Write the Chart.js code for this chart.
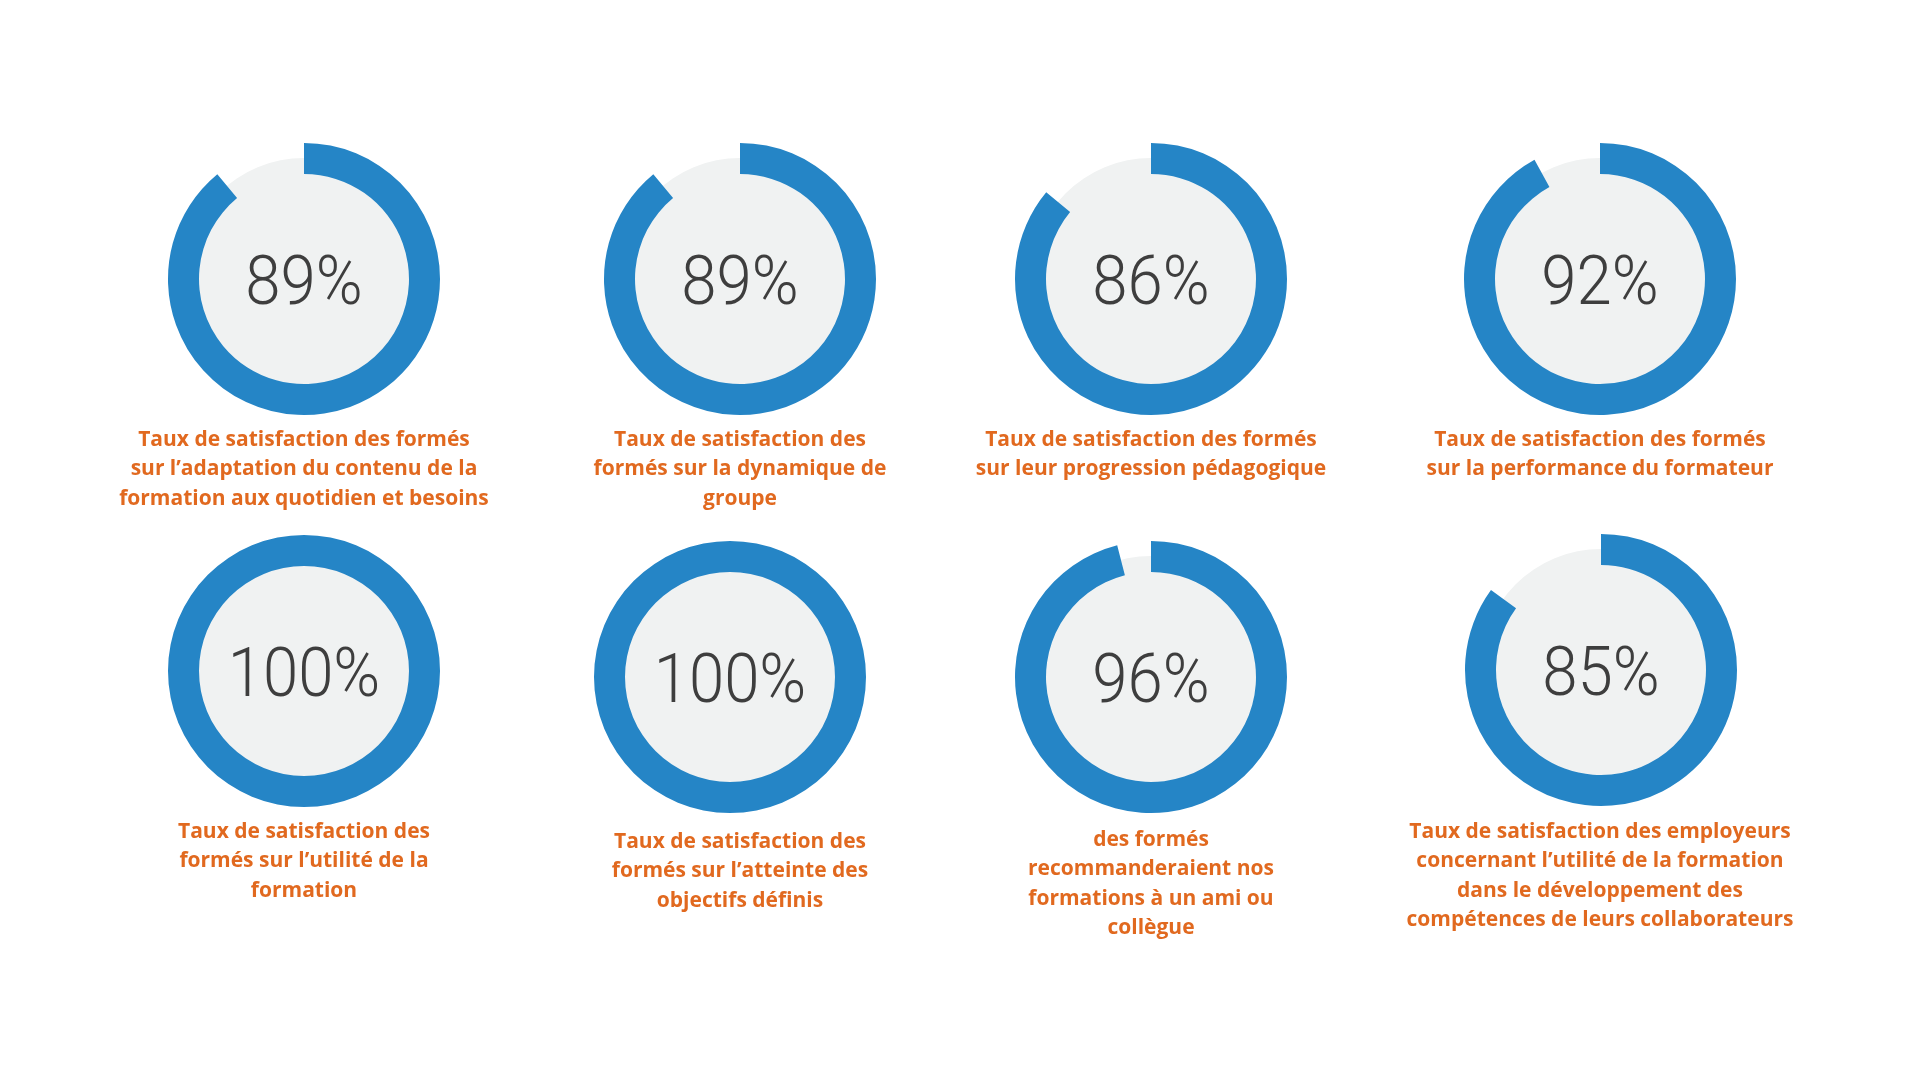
<!DOCTYPE html>
<html lang="fr">
<head>
<meta charset="utf-8">
<script src="https://cdn.jsdelivr.net/npm/chart.js@4.4.1/dist/chart.umd.min.js"></script>
<style>
  html, body { margin: 0; padding: 0; background: #ffffff; }
  #stage { position: relative; width: 1920px; height: 1080px; overflow: hidden; background: #fff; }
  .box { position: absolute; width: 300px; height: 300px; }
  .box canvas { position: absolute; left: 0; top: 0; }
  .pct { position: absolute; transform: translate(-50%, -50%) scaleX(0.92); font-family: Roboto, "DejaVu Sans", sans-serif; font-weight: 300; font-size: 69px; color: #3e3e3e; white-space: nowrap; line-height: 1; }
  .cap { position: absolute; transform: translateX(-50%); font-family: "Open Sans", "DejaVu Sans", sans-serif; font-weight: 700; font-size: 21px; line-height: 29.4px; color: #e1691f; text-align: center; white-space: nowrap; }
</style>
</head>
<body>
<div id="stage"></div>
<script>
// ---- data ----
const values = [89, 89, 86, 92, 100, 100, 96, 85];
const valueLabels = ["89%", "89%", "86%", "92%", "100%", "100%", "96%", "85%"];
const captions = [
  "Taux de satisfaction des formés\nsur l’adaptation du contenu de la\nformation aux quotidien et besoins",
  "Taux de satisfaction des\nformés sur la dynamique de\ngroupe",
  "Taux de satisfaction des formés\nsur leur progression pédagogique",
  "Taux de satisfaction des formés\nsur la performance du formateur",
  "Taux de satisfaction des\nformés sur l’utilité de la\nformation",
  "Taux de satisfaction des\nformés sur l’atteinte des\nobjectifs définis",
  "des formés\nrecommanderaient nos\nformations à un ami ou\ncollègue",
  "Taux de satisfaction des employeurs\nconcernant l’utilité de la formation\ndans le développement des\ncompétences de leurs collaborateurs"
];

// ---- layout ----
const centers = [[304,279],[740,279],[1151,279],[1600,279],[304,671],[730,677],[1151,677],[1601,670]];
const capPos = [[304,424],[740,424],[1151,424],[1600,424],[304,816],[740,826],[1151,824],[1600,816]];
const BLUE = "#2585c6", GRAY = "#f0f2f2";

const stage = document.getElementById("stage");
values.forEach((v, i) => {
  const [cx, cy] = centers[i];
  const box = document.createElement("div");
  box.className = "box";
  box.style.left = (cx - 150) + "px";
  box.style.top = (cy - 150) + "px";
  const c1 = document.createElement("canvas");
  const c2 = document.createElement("canvas");
  c1.width = c2.width = 300; c1.height = c2.height = 300;
  box.appendChild(c1); box.appendChild(c2);
  stage.appendChild(box);

  const common = {
    responsive: false, animation: false, events: [],
    layout: { padding: 0 },
    plugins: { legend: { display: false }, tooltip: { enabled: false } }
  };
  new Chart(c1, {
    type: "pie",
    data: { labels: ["fond"], datasets: [{ data: [100], backgroundColor: [GRAY], borderWidth: 0 }] },
    options: Object.assign({}, common, { radius: 121 })
  });
  new Chart(c2, {
    type: "doughnut",
    data: { labels: ["valeur", "reste"], datasets: [{ data: [v, 100 - v], backgroundColor: [BLUE, "rgba(0,0,0,0)"], borderWidth: 0 }] },
    options: Object.assign({}, common, { radius: 136, cutout: "77.2%" })
  });

  const p = document.createElement("div");
  p.className = "pct";
  p.style.left = cx + "px";
  p.style.top = (cy + 1) + "px";
  p.textContent = valueLabels[i];
  stage.appendChild(p);

  const cap = document.createElement("div");
  cap.className = "cap";
  cap.style.left = capPos[i][0] + "px";
  cap.style.top = capPos[i][1] + "px";
  captions[i].split("\n").forEach((line, k) => {
    if (k) cap.appendChild(document.createElement("br"));
    cap.appendChild(document.createTextNode(line));
  });
  stage.appendChild(cap);
});
</script>
</body>
</html>
